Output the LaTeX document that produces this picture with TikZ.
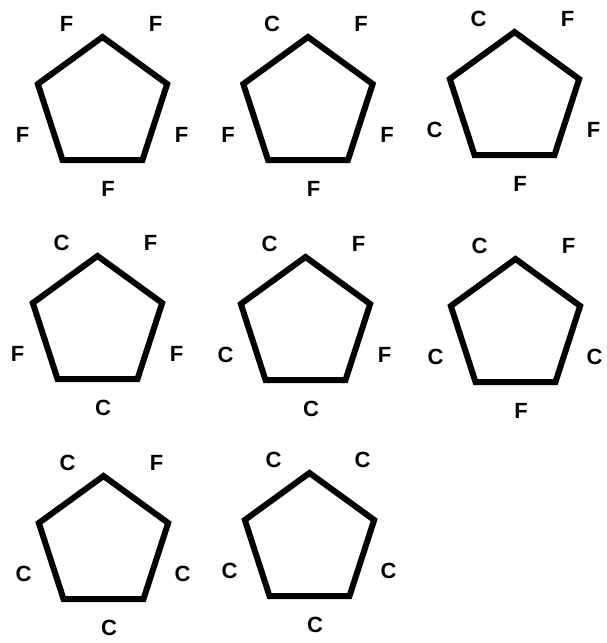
\documentclass[tikz,border=0pt]{standalone}
\usepackage{fontspec}
\setmainfont{Liberation Sans}
\usetikzlibrary{shapes.geometric}

\tikzset{
  ring/.style={draw, regular polygon, regular polygon sides=5,
    minimum size=136pt, inner sep=0pt, line width=6pt},
  lbl/.style={inner sep=0pt, font=\fontsize{22}{22}\selectfont\bfseries}
}

% one five-ring with its five labels
\newcommand{\ring}[7]{%
  \node[ring] (#1) at (#2) {};
  \node[lbl] (#1-tl) at ([shift={(-36,81)}]#1.center) {#3};
  \node[lbl] (#1-tr) at ([shift={(53,81)}]#1.center) {#4};
  \node[lbl] (#1-l) at ([shift={(-80,-30)}]#1.center) {#5};
  \node[lbl] (#1-r) at ([shift={(79,-30)}]#1.center) {#6};
  \node[lbl] (#1-b) at ([shift={(5.5,-84)}]#1.center) {#7};
}

\begin{document}
\begin{tikzpicture}[x=1pt,y=1pt]
    \useasboundingbox (0,0) rectangle (607,643);
    % first row
    \ring{r1}{102.5,538}{F}{F}{F}{F}{F}
    \ring{r2}{308,538}{C}{F}{F}{F}{F}
    \ring{r3}{514.5,543}{C}{F}{C}{F}{F}
    % second row
    \ring{r4}{97.5,319}{C}{F}{F}{F}{C}
    \ring{r5}{305.5,318}{C}{F}{C}{F}{C}
    \ring{r6}{515.5,316}{C}{F}{C}{C}{F}
    % third row
    \ring{r7}{103.5,99}{C}{F}{C}{C}{C}
    \ring{r8}{309.5,102}{C}{C}{C}{C}{C}
\end{tikzpicture}
\end{document}
